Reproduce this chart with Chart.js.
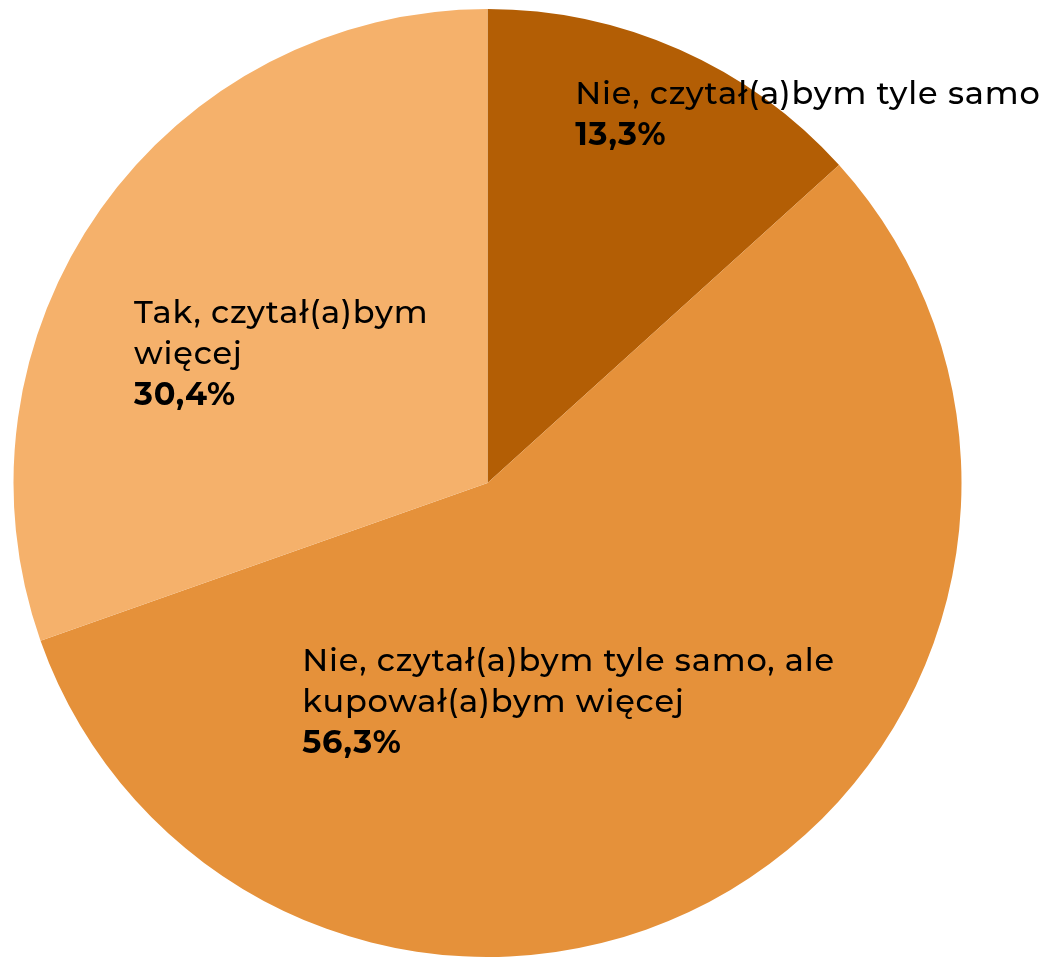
<!DOCTYPE html>
<html lang="pl">
<head>
<meta charset="utf-8">
<script src="https://cdn.jsdelivr.net/npm/chart.js@4"></script>
<style>
	html, body { margin: 0; padding: 0; background: #fff; }
	#wrap { width: 1045px; height: 957px; }
</style>
</head>
<body>
<div id="wrap"><canvas id="myChart" width="1045" height="957"></canvas></div>
<script>
// categories (multi-line labels), clockwise from 12 o'clock
const categories = [
	['Nie, czytał(a)bym tyle samo'],
	['Nie, czytał(a)bym tyle samo, ale', 'kupował(a)bym więcej'],
	['Tak, czytał(a)bym', 'więcej']
];
const shares = [13.3, 56.3, 30.4];
const sliceColors = ['#B35E05', '#E5913A', '#F5B16B'];

function formatPct(v){
	return v.toFixed(1).replace('.', ',') + '%'
}

// label anchors relative to pie centre, in units of the radius
const labelAnchors = [
	{ fx: 0.185, fy: -0.80 },
	{ fx: -0.391, fy: 0.397 },
	{ fx: -0.746, fy: -0.338 }
];

const sliceLabels = {
	id: 'sliceLabels',
	afterDatasetsDraw(chart) {
		const ctx = chart.ctx;
		const meta = chart.getDatasetMeta(0);
		const fontSize = 32;
		const lineH = 41;
		ctx.save();
		ctx.fillStyle = '#000';
		ctx.textAlign = 'left';
		ctx.textBaseline = 'alphabetic';
		ctx.letterSpacing = '0.85px';
		meta.data.forEach((arc, i) => {
			const r = arc.outerRadius;
			let x = arc.x + labelAnchors[i].fx * r;
			let y = arc.y + labelAnchors[i].fy * r;
			ctx.font = `500 ${fontSize}px Montserrat, "Open Sans", sans-serif`;
			categories[i].forEach(line => {
				ctx.fillText(line, x, y);
				y += lineH;
			});
			ctx.font = `700 ${fontSize}px Montserrat, "Open Sans", sans-serif`;
			ctx.fillText(formatPct(shares[i]), x, y);
		});
		ctx.restore();
	}
};

const ctx = document.getElementById('myChart').getContext('2d');
const myChart = new Chart(ctx, {
	type: 'pie',
	data: {
		labels: categories,
		datasets: [{
			data: shares,
			backgroundColor: sliceColors,
			borderWidth: 0
		}]
	},
	options: {
		responsive: false,
		animation: false,
		layout: { padding: { left: 13, right: 83, top: 9, bottom: 0 } },
		plugins: {
			legend: { display: false },
			tooltip: { enabled: false }
		}
	},
	plugins: [sliceLabels]
});
</script>
</body>
</html>
